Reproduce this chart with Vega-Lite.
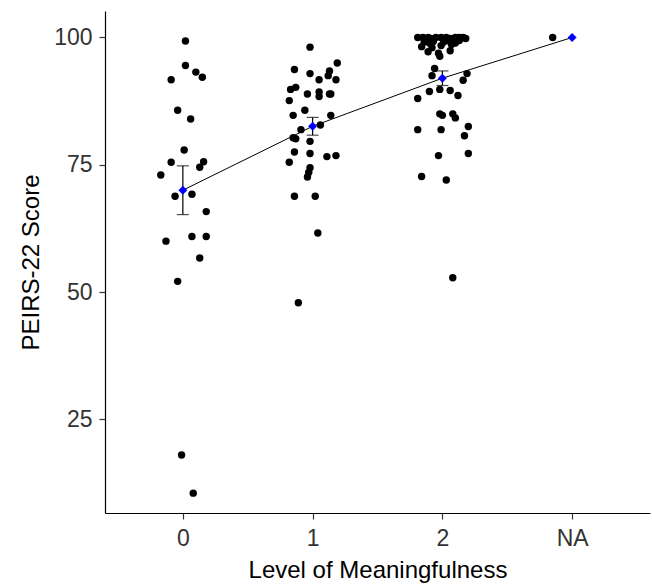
{
  "$schema": "https://vega.github.io/schema/vega-lite/v6.json",
  "autosize": "none",
  "width": 545,
  "height": 502,
  "padding": {"left": 105, "top": 11, "right": 2, "bottom": 74},
  "background": "white",
  "config": {
    "view": {"stroke": null},
    "font": "Liberation Sans",
    "axis": {"grid": false, "domainColor": "black", "domainWidth": 1.2, "tickColor": "#333333", "tickWidth": 1.2, "tickSize": 6, "labelColor": "#333333", "labelFontSize": 23, "titleFontSize": 24, "titleFontWeight": "normal", "titleColor": "black", "labelFont": "Liberation Sans", "titleFont": "Liberation Sans"}
  },
  "data": {"values": [
    {"group": 0, "pos": 0.02, "score": 99.3},
    {"group": 0, "pos": 0.02, "score": 94.5},
    {"group": 0, "pos": -0.09, "score": 91.7},
    {"group": 0, "pos": 0.10, "score": 93.2},
    {"group": 0, "pos": 0.15, "score": 92.2},
    {"group": 0, "pos": -0.04, "score": 85.7},
    {"group": 0, "pos": 0.06, "score": 84.0},
    {"group": 0, "pos": 0.01, "score": 77.9},
    {"group": 0, "pos": -0.09, "score": 75.5},
    {"group": 0, "pos": 0.16, "score": 75.6},
    {"group": 0, "pos": 0.13, "score": 74.5},
    {"group": 0, "pos": -0.17, "score": 73.0},
    {"group": 0, "pos": -0.06, "score": 68.8},
    {"group": 0, "pos": 0.07, "score": 69.2},
    {"group": 0, "pos": 0.18, "score": 65.8},
    {"group": 0, "pos": -0.13, "score": 60.0},
    {"group": 0, "pos": 0.07, "score": 60.9},
    {"group": 0, "pos": 0.18, "score": 60.9},
    {"group": 0, "pos": 0.13, "score": 56.7},
    {"group": 0, "pos": -0.04, "score": 52.1},
    {"group": 0, "pos": -0.01, "score": 18.0},
    {"group": 0, "pos": 0.08, "score": 10.5},
    {"group": 1, "pos": 0.98, "score": 98.1},
    {"group": 1, "pos": 1.19, "score": 95.0},
    {"group": 1, "pos": 0.86, "score": 93.7},
    {"group": 1, "pos": 0.98, "score": 92.9},
    {"group": 1, "pos": 1.13, "score": 93.4},
    {"group": 1, "pos": 1.05, "score": 91.7},
    {"group": 1, "pos": 1.12, "score": 92.5},
    {"group": 1, "pos": 1.18, "score": 91.7},
    {"group": 1, "pos": 0.83, "score": 89.8},
    {"group": 1, "pos": 0.87, "score": 90.2},
    {"group": 1, "pos": 0.82, "score": 87.6},
    {"group": 1, "pos": 0.96, "score": 88.9},
    {"group": 1, "pos": 1.05, "score": 89.3},
    {"group": 1, "pos": 1.05, "score": 88.4},
    {"group": 1, "pos": 1.13, "score": 88.9},
    {"group": 1, "pos": 1.14, "score": 88.9},
    {"group": 1, "pos": 0.85, "score": 84.7},
    {"group": 1, "pos": 0.94, "score": 85.7},
    {"group": 1, "pos": 1.14, "score": 84.7},
    {"group": 1, "pos": 0.91, "score": 81.9},
    {"group": 1, "pos": 1.06, "score": 82.8},
    {"group": 1, "pos": 0.85, "score": 80.3},
    {"group": 1, "pos": 0.87, "score": 80.1},
    {"group": 1, "pos": 0.98, "score": 79.6},
    {"group": 1, "pos": 0.86, "score": 77.5},
    {"group": 1, "pos": 0.98, "score": 77.2},
    {"group": 1, "pos": 0.82, "score": 75.5},
    {"group": 1, "pos": 1.11, "score": 76.6},
    {"group": 1, "pos": 1.18, "score": 76.8},
    {"group": 1, "pos": 0.98, "score": 74.4},
    {"group": 1, "pos": 0.97, "score": 73.5},
    {"group": 1, "pos": 0.96, "score": 72.6},
    {"group": 1, "pos": 0.86, "score": 68.8},
    {"group": 1, "pos": 1.02, "score": 68.8},
    {"group": 1, "pos": 1.04, "score": 61.6},
    {"group": 1, "pos": 0.89, "score": 47.9},
    {"group": 2, "pos": 1.81, "score": 100},
    {"group": 2, "pos": 1.89, "score": 100},
    {"group": 2, "pos": 1.95, "score": 100},
    {"group": 2, "pos": 2.03, "score": 100},
    {"group": 2, "pos": 2.10, "score": 100},
    {"group": 2, "pos": 2.16, "score": 100},
    {"group": 2, "pos": 1.85, "score": 100},
    {"group": 2, "pos": 1.99, "score": 100},
    {"group": 2, "pos": 2.13, "score": 100},
    {"group": 2, "pos": 1.91, "score": 99.8},
    {"group": 2, "pos": 2.06, "score": 99.8},
    {"group": 2, "pos": 2.18, "score": 99.8},
    {"group": 2, "pos": 1.86, "score": 99.1},
    {"group": 2, "pos": 1.93, "score": 99.2},
    {"group": 2, "pos": 2.06, "score": 99.2},
    {"group": 2, "pos": 2.13, "score": 99.4},
    {"group": 2, "pos": 1.90, "score": 98.9},
    {"group": 2, "pos": 2.01, "score": 99.1},
    {"group": 2, "pos": 2.10, "score": 98.9},
    {"group": 2, "pos": 1.84, "score": 98.2},
    {"group": 2, "pos": 1.92, "score": 98.0},
    {"group": 2, "pos": 1.99, "score": 98.4},
    {"group": 2, "pos": 2.07, "score": 98.6},
    {"group": 2, "pos": 1.89, "score": 97.2},
    {"group": 2, "pos": 1.97, "score": 96.9},
    {"group": 2, "pos": 2.06, "score": 97.4},
    {"group": 2, "pos": 1.98, "score": 96.3},
    {"group": 2, "pos": 1.94, "score": 93.9},
    {"group": 2, "pos": 1.92, "score": 92.5},
    {"group": 2, "pos": 2.19, "score": 92.9},
    {"group": 2, "pos": 2.16, "score": 91.6},
    {"group": 2, "pos": 1.90, "score": 89.4},
    {"group": 2, "pos": 1.98, "score": 89.8},
    {"group": 2, "pos": 2.06, "score": 89.6},
    {"group": 2, "pos": 1.81, "score": 88.0},
    {"group": 2, "pos": 2.12, "score": 88.6},
    {"group": 2, "pos": 1.98, "score": 85.0},
    {"group": 2, "pos": 2.00, "score": 84.7},
    {"group": 2, "pos": 2.08, "score": 85.0},
    {"group": 2, "pos": 2.10, "score": 84.2},
    {"group": 2, "pos": 1.81, "score": 81.9},
    {"group": 2, "pos": 1.99, "score": 81.9},
    {"group": 2, "pos": 2.20, "score": 82.5},
    {"group": 2, "pos": 2.17, "score": 80.7},
    {"group": 2, "pos": 1.97, "score": 76.8},
    {"group": 2, "pos": 2.20, "score": 77.2},
    {"group": 2, "pos": 1.84, "score": 72.7},
    {"group": 2, "pos": 2.03, "score": 72.0},
    {"group": 2, "pos": 2.08, "score": 52.8},
    {"group": 3, "pos": 2.85, "score": 100}
  ]},
  "encoding": {
    "x": {"type": "quantitative", "scale": {"domain": [-0.6, 3.6], "nice": false, "zero": false},
      "axis": {"title": "Level of Meaningfulness", "values": [0, 1, 2, 3], "labelExpr": "datum.value == 3 ? 'NA' : datum.label", "labelPadding": 8, "titlePadding": 8}},
    "y": {"type": "quantitative", "scale": {"domain": [6.6, 105.2], "nice": false, "zero": false},
      "axis": {"title": "PEIRS-22 Score", "values": [25, 50, 75, 100], "labelPadding": 7, "titlePadding": 10}}
  },
  "layer": [
    {"mark": {"type": "point", "filled": true, "shape": "circle", "size": 55, "color": "black", "opacity": 1},
     "encoding": {"x": {"field": "pos", "type": "quantitative"}, "y": {"field": "score", "type": "quantitative"}}},
    {"mark": {"type": "line", "color": "black", "strokeWidth": 1},
     "encoding": {"x": {"field": "group", "type": "quantitative"}, "y": {"field": "score", "aggregate": "mean", "type": "quantitative"}}},
    {"mark": {"type": "errorbar", "extent": "stderr", "orient": "vertical", "color": "black", "thickness": 1.2, "ticks": {"size": 12, "color": "black", "thickness": 1.2}},
     "encoding": {"x": {"field": "group", "type": "quantitative"}, "y": {"field": "score", "type": "quantitative"}}},
    {"mark": {"type": "point", "filled": true, "shape": "diamond", "size": 80, "color": "#0000FF", "opacity": 1},
     "encoding": {"x": {"field": "group", "type": "quantitative"}, "y": {"field": "score", "aggregate": "mean", "type": "quantitative"}}}
  ]
}
